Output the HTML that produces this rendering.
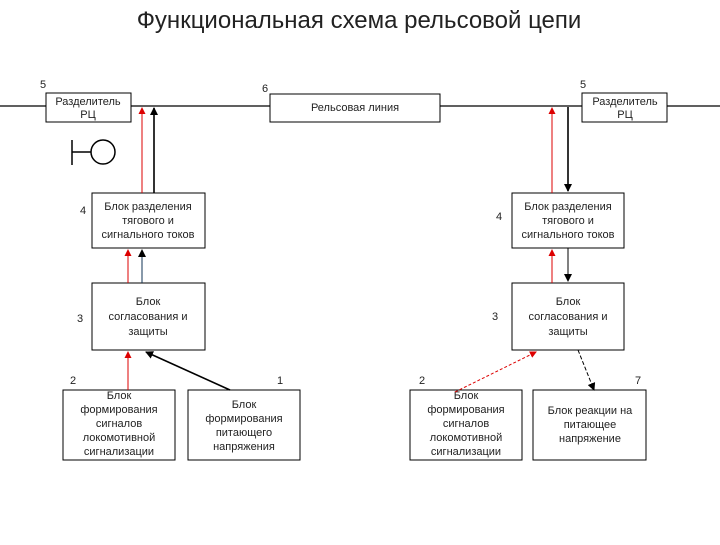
<!DOCTYPE html>
<html><head><meta charset="utf-8"><style>
body{margin:0;background:#fff}
svg text{font-family:"Liberation Sans",sans-serif;fill:#222}
</style></head><body>
<svg width="720" height="540" xmlns="http://www.w3.org/2000/svg">
<defs>
<marker id="ak" markerWidth="8" markerHeight="8" refX="7" refY="4" orient="auto" markerUnits="userSpaceOnUse"><path d="M0,0 L8,4 L0,8 z" fill="#000"/></marker>
<marker id="ar" markerWidth="7" markerHeight="7" refX="6" refY="3.5" orient="auto" markerUnits="userSpaceOnUse"><path d="M0,0 L7,3.5 L0,7 z" fill="#d00"/></marker>
</defs>
<text x="359" y="28" font-size="24" text-anchor="middle">Функциональная схема рельсовой цепи</text>
<line x1="0" y1="106" x2="720" y2="106" stroke="#000" stroke-width="1.2"/>
<g fill="#fff" stroke="#000" stroke-width="1">
<rect x="46" y="93" width="85" height="29"/>
<rect x="270" y="94" width="170" height="28"/>
<rect x="582" y="93" width="85" height="29"/>
<rect x="92" y="193" width="113" height="55"/>
<rect x="92" y="283" width="113" height="67"/>
<rect x="63" y="390" width="112" height="70"/>
<rect x="188" y="390" width="112" height="70"/>
<rect x="512" y="193" width="112" height="55"/>
<rect x="512" y="283" width="112" height="67"/>
<rect x="410" y="390" width="112" height="70"/>
<rect x="533" y="390" width="113" height="70"/>
</g>
<g font-size="11" text-anchor="middle">
<text x="88" y="105">Разделитель</text><text x="88" y="118">РЦ</text>
<text x="355" y="111">Рельсовая линия</text>
<text x="625" y="105">Разделитель</text><text x="625" y="118">РЦ</text>
<text x="148" y="210">Блок разделения</text><text x="148" y="224">тягового и</text><text x="148" y="238">сигнального токов</text>
<text x="148" y="305">Блок</text><text x="148" y="320">согласования и</text><text x="148" y="335">защиты</text>
<text x="119" y="399">Блок</text><text x="119" y="413">формирования</text><text x="119" y="427">сигналов</text><text x="119" y="441">локомотивной</text><text x="119" y="455">сигнализации</text>
<text x="244" y="408">Блок</text><text x="244" y="422">формирования</text><text x="244" y="436">питающего</text><text x="244" y="450">напряжения</text>
<text x="568" y="210">Блок разделения</text><text x="568" y="224">тягового и</text><text x="568" y="238">сигнального токов</text>
<text x="568" y="305">Блок</text><text x="568" y="320">согласования и</text><text x="568" y="335">защиты</text>
<text x="466" y="399">Блок</text><text x="466" y="413">формирования</text><text x="466" y="427">сигналов</text><text x="466" y="441">локомотивной</text><text x="466" y="455">сигнализации</text>
<text x="590" y="414">Блок реакции на</text><text x="590" y="428">питающее</text><text x="590" y="442">напряжение</text>
</g>
<g font-size="11">
<text x="40" y="88">5</text><text x="262" y="92">6</text><text x="580" y="88">5</text>
<text x="80" y="214">4</text><text x="77" y="322">3</text><text x="70" y="384">2</text><text x="277" y="384">1</text>
<text x="496" y="220">4</text><text x="492" y="320">3</text><text x="419" y="384">2</text><text x="635" y="384">7</text>
</g>
<line x1="72" y1="140" x2="72" y2="165" stroke="#000" stroke-width="1.5"/>
<line x1="72" y1="152" x2="91" y2="152" stroke="#000" stroke-width="1.5"/>
<circle cx="103" cy="152" r="12" fill="none" stroke="#000" stroke-width="1.5"/>
<g fill="none">
<line x1="142" y1="193" x2="142" y2="108" stroke="#d00" marker-end="url(#ar)"/>
<line x1="154" y1="193" x2="154" y2="108" stroke="#000" stroke-width="1.6" marker-end="url(#ak)"/>
<line x1="128" y1="283" x2="128" y2="250" stroke="#d00" marker-end="url(#ar)"/>
<line x1="142" y1="283" x2="142" y2="250" stroke="#135" marker-end="url(#ak)"/>
<line x1="128" y1="390" x2="128" y2="352" stroke="#d00" marker-end="url(#ar)"/>
<line x1="230" y1="390" x2="146" y2="352" stroke="#000" stroke-width="1.6" marker-end="url(#ak)"/>
<line x1="552" y1="193" x2="552" y2="108" stroke="#d00" marker-end="url(#ar)"/>
<line x1="568" y1="107" x2="568" y2="191" stroke="#000" stroke-width="1.6" marker-end="url(#ak)"/>
<line x1="552" y1="283" x2="552" y2="250" stroke="#d00" marker-end="url(#ar)"/>
<line x1="568" y1="248" x2="568" y2="281" stroke="#000" marker-end="url(#ak)"/>
<line x1="455" y1="392" x2="536" y2="352" stroke="#d00" stroke-dasharray="3,2" marker-end="url(#ar)"/>
<line x1="578" y1="350" x2="594" y2="390" stroke="#000" stroke-dasharray="4,2" marker-end="url(#ak)"/>
</g>
</svg>
</body></html>
